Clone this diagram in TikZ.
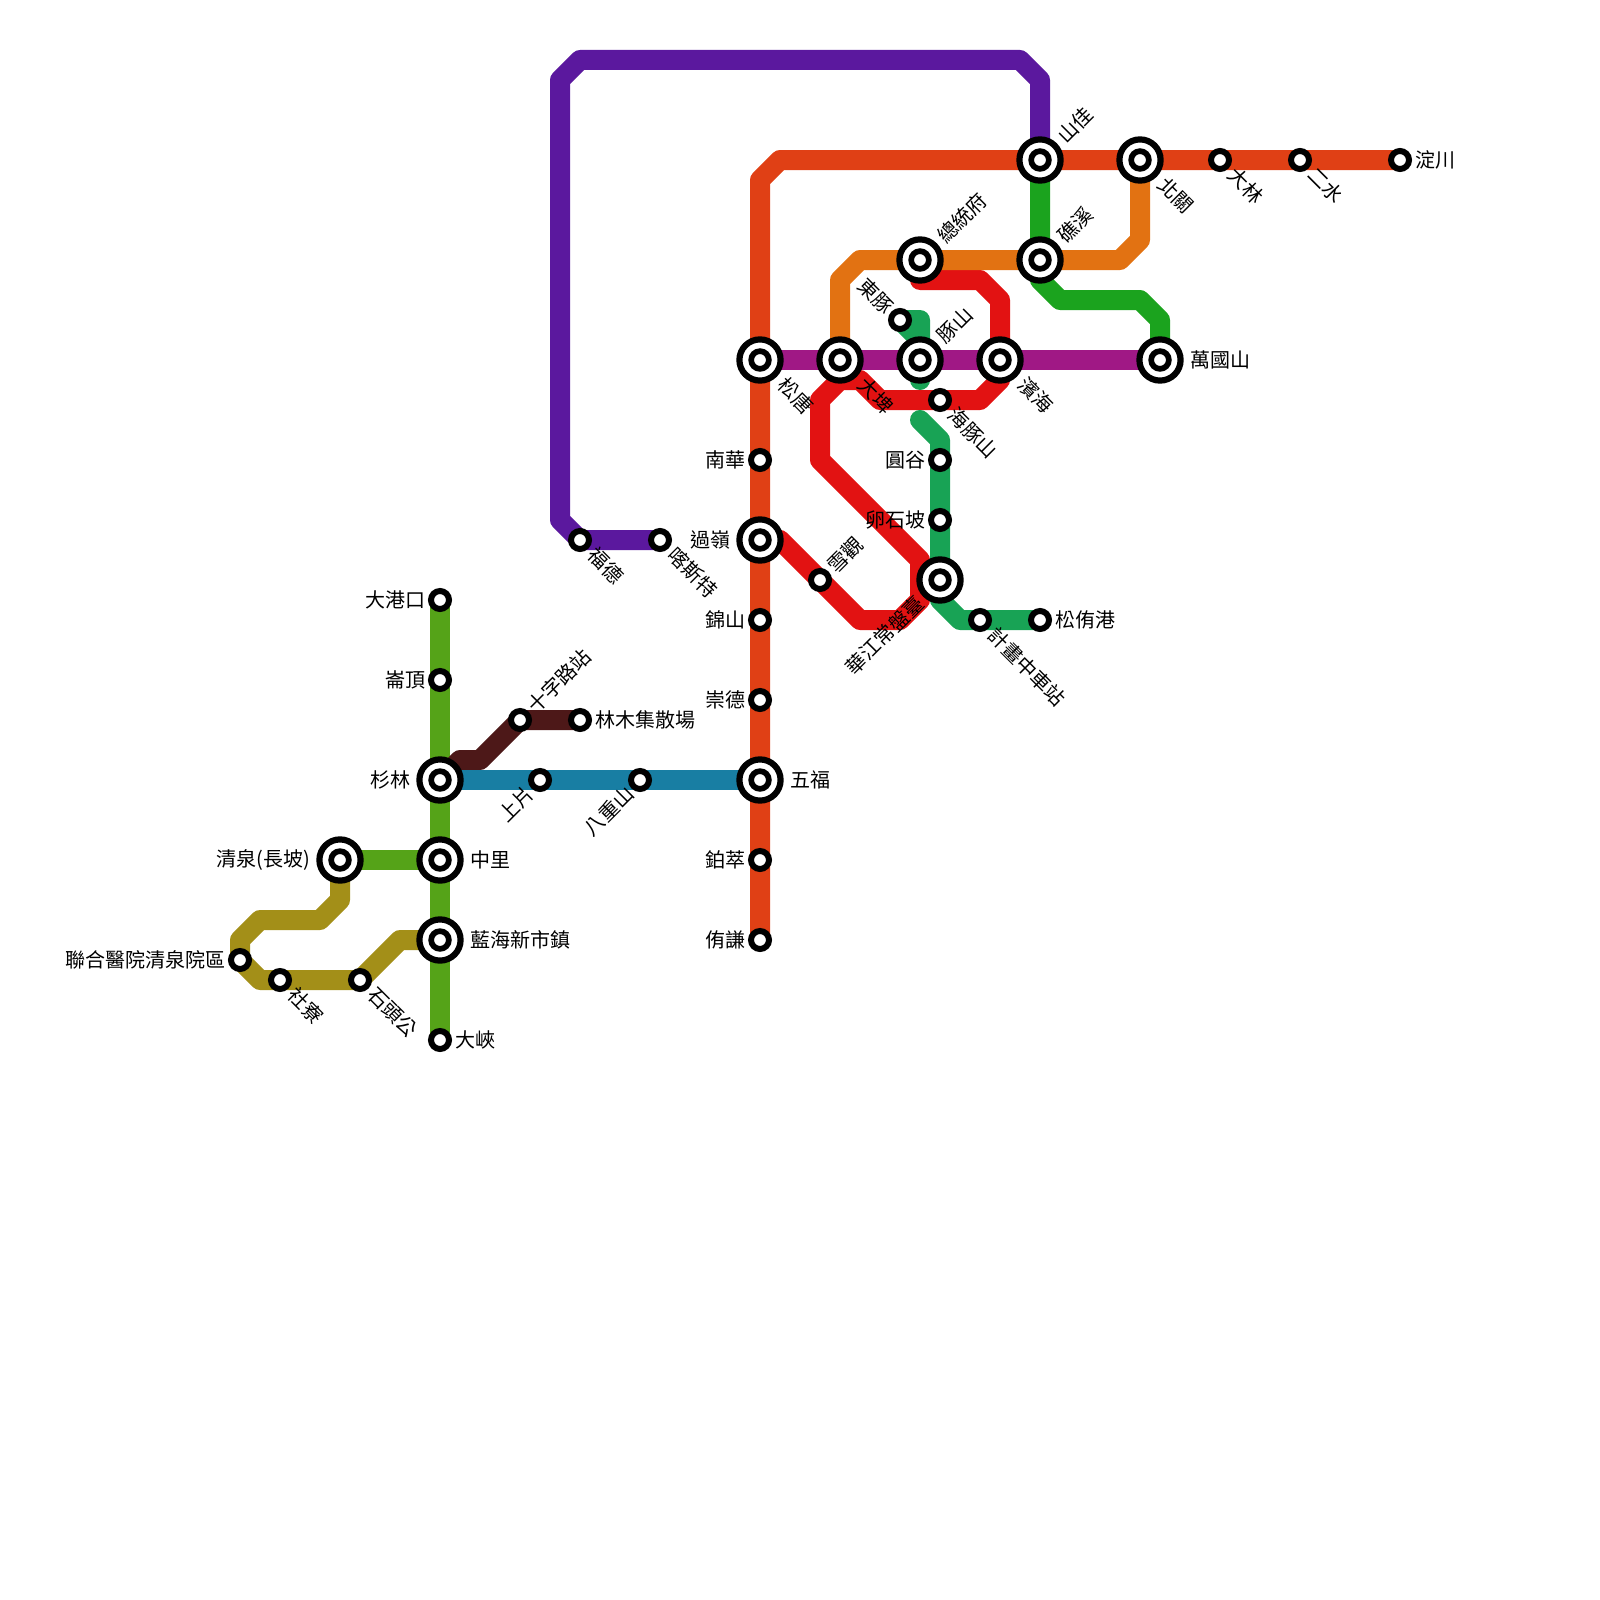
\documentclass[tikz,border=0pt]{standalone}
\usepackage{fontspec}
\setmainfont{Noto Sans CJK TC}
\tikzset{
 mline/.style={line width=20pt,line cap=round,line join=round},
 bigst/.style={circle,draw=black,line width=6.2pt,fill=white,minimum size=41.2pt,inner sep=0pt,outer sep=0pt},
 bigin/.style={circle,draw=black,line width=5.7pt,fill=white,minimum size=17.7pt,inner sep=0pt,outer sep=0pt},
 smst/.style={circle,draw=black,line width=6pt,fill=white,minimum size=18pt,inner sep=0pt,outer sep=0pt},
 lab/.style={font=\fontsize{20pt}{20pt}\selectfont,inner sep=0pt,outer sep=0pt,text=black},
 labE/.style={lab,anchor=west,xshift=#1},
 labW/.style={lab,anchor=east,xshift=-#1},
 labNE/.style={lab,anchor=west,xshift=#1+0.7pt,yshift=#1+0.7pt,rotate=45},
 labSE/.style={lab,anchor=west,xshift=#1+1.5pt,yshift=-#1-1.5pt,rotate=-45},
 labSW/.style={lab,anchor=east,xshift=-#1,yshift=-#1,rotate=45},
 labNW/.style={lab,anchor=east,xshift=-#1,yshift=#1,rotate=-45},
}
\definecolor{cpurple}{HTML}{5B189E}
\definecolor{cored}{HTML}{E04015}
\definecolor{corange}{HTML}{E27212}
\definecolor{cdgreen}{HTML}{1BA31E}
\definecolor{cmag}{HTML}{A01885}
\definecolor{cred}{HTML}{E21212}
\definecolor{cteal}{HTML}{18A355}
\definecolor{clime}{HTML}{55A318}
\definecolor{colive}{HTML}{A38F18}
\definecolor{cbrown}{HTML}{4D1818}
\definecolor{cblue}{HTML}{187EA3}
\begin{document}
\begin{tikzpicture}[x=1pt,y=-1pt]
\useasboundingbox (0,0) rectangle (1600,1600);
% positions
\foreach \n/\x/\y in {songtang/760/360,dapi/840/360,tunshan/920/360,binhai/1000/360,wanguo/1160/360,
 shanjia/1040/160,beiguan/1140/160,jiaoxi/1040/260,zongtong/920/260,guoling/760/540,huajiang/940/580,
 wufu/760/780,shanlin/440/780,zhongli/440/860,lanhai/440/940,qingquan/340/860,
 dongtun/900/320,haitun/940/400,nanhua/760/460,yuangu/940/460,luanshi/940/520,xueguan/820/580,
 jinshan/760/620,chongde/760/700,bocui/760/860,youqian/760/940,jihua/980/620,songyou/1040/620,
 dalin/1220/160,ershui/1300/160,dianchuan/1400/160,fude/580/540,kasite/660/540,
 dagang/440/600,lunding/440/680,daxia/440/1040,lianhe/240/960,sheliao/280/980,shitou/360/980,
 shizi/520/720,linmu/580/720,shangpian/540/780,bachong/640/780}
 {\coordinate (p\n) at (\x,\y);}
% lines
\draw[mline,cteal] (pdongtun) -- (920,340) -- (920,380) (pdongtun) -- (920,320) -- (920,340);
\draw[mline,cred] (920,260) -- (920,280) -- (980,280) -- (1000,300) -- (1000,380) -- (980,400) -- (880,400) -- (860,380) -- (840,380) -- (820,400) -- (820,460) -- (920,560) -- (920,600) -- (900,620) -- (860,620) -- (780,540) -- (pguoling);
\draw[mline,cteal] (920,420) -- (940,440) -- (940,600) -- (960,620) -- (psongyou);
\draw[mline,cpurple] (pshanjia) -- (1040,80) -- (1020,60) -- (580,60) -- (560,80) -- (560,520) -- (pfude) -- (pkasite);
\draw[mline,cored] (pyouqian) -- (760,180) -- (780,160) -- (pdianchuan);
\draw[mline,cdgreen] (pshanjia) -- (1040,280) -- (1060,300) -- (1140,300) -- (1160,320) -- (pwanguo);
\draw[mline,corange] (pdapi) -- (840,280) -- (860,260) -- (1120,260) -- (1140,240) -- (pbeiguan);
\draw[mline,cmag] (psongtang) -- (pwanguo);
\draw[mline,clime] (pdagang) -- (pdaxia);
\draw[mline,clime] (pqingquan) -- (pzhongli);
\draw[mline,colive] (pqingquan) -- (340,900) -- (320,920) -- (260,920) -- (240,940) -- (240,960) -- (260,980) -- (360,980) -- (400,940) -- (planhai);
\draw[mline,cbrown] (pshanlin) -- (460,760) -- (480,760) -- (pshizi) -- (plinmu);
\draw[mline,cblue] (pshanlin) -- (pwufu);
% big stations
\foreach \n in {songtang,dapi,tunshan,binhai,wanguo,shanjia,beiguan,jiaoxi,zongtong,guoling,huajiang,wufu,shanlin,zhongli,lanhai,qingquan}
 {\node[bigst] (o\n) at (p\n) {}; \node[bigin] (i\n) at (p\n) {};}
% small stations
\foreach \n in {dongtun,haitun,nanhua,yuangu,luanshi,xueguan,jinshan,chongde,bocui,youqian,jihua,songyou,dalin,ershui,dianchuan,fude,kasite,dagang,lunding,daxia,lianhe,sheliao,shitou,shizi,linmu,shangpian,bachong}
 {\node[smst] (s\n) at (p\n) {};}
% labels
\node[labSE=20pt] (l1) at (psongtang) {松唐};
\node[labSE=20pt] (l2) at (pdapi) {大埤};
\node[labNE=20pt] (l3) at (ptunshan) {豚山};
\node[labSE=20pt] (l4) at (pbinhai) {濱海};
\node[labE=30pt] (l5) at (pwanguo) {萬國山};
\node[labNE=20pt] (l6) at (pshanjia) {山佳};
\node[labSE=20pt] (l7) at (pbeiguan) {北關};
\node[labNE=20pt] (l8) at (pjiaoxi) {礁溪};
\node[labNE=20pt] (l9) at (pzongtong) {總統府};
\node[labW=30pt] (l10) at (pguoling) {過嶺};
\node[labSW=20pt] (l11) at (phuajiang) {華江常盤臺};
\node[labE=30pt] (l12) at (pwufu) {五福};
\node[labW=30pt] (l13) at (pshanlin) {杉林};
\node[labE=30pt] (l14) at (pzhongli) {中里};
\node[labE=30pt] (l15) at (planhai) {藍海新市鎮};
\node[labW=30pt] (l16) at (pqingquan) {清泉(長坡)};
\node[labNW=10pt] (l17) at (pdongtun) {東豚};
\node[labSE=10pt] (l18) at (phaitun) {海豚山};
\node[labW=15pt] (l19) at (pnanhua) {南華};
\node[labW=15pt] (l20) at (pyuangu) {圓谷};
\node[labW=15pt] (l21) at (pluanshi) {卵石坡};
\node[labNE=10pt] (l22) at (pxueguan) {雪觀};
\node[labW=15pt] (l23) at (pjinshan) {錦山};
\node[labW=15pt] (l24) at (pchongde) {崇德};
\node[labW=15pt] (l25) at (pbocui) {鉑萃};
\node[labW=15pt] (l26) at (pyouqian) {侑謙};
\node[labSE=10pt] (l27) at (pjihua) {計畫中車站};
\node[labE=15pt] (l28) at (psongyou) {松侑港};
\node[labSE=10pt] (l29) at (pdalin) {大林};
\node[labSE=10pt] (l30) at (pershui) {二水};
\node[labE=15pt] (l31) at (pdianchuan) {淀川};
\node[labSE=10pt] (l32) at (pfude) {福德};
\node[labSE=10pt] (l33) at (pkasite) {喀斯特};
\node[labW=15pt] (l34) at (pdagang) {大港口};
\node[labW=15pt] (l35) at (plunding) {崙頂};
\node[labE=15pt] (l36) at (pdaxia) {大峽};
\node[labW=15pt] (l37) at (plianhe) {聯合醫院清泉院區};
\node[labSE=10pt] (l38) at (psheliao) {社寮};
\node[labSE=10pt] (l39) at (pshitou) {石頭公};
\node[labNE=10pt] (l40) at (pshizi) {十字路站};
\node[labE=15pt] (l41) at (plinmu) {林木集散場};
\node[labSW=10pt] (l42) at (pshangpian) {上片};
\node[labSW=10pt] (l43) at (pbachong) {八重山};
\end{tikzpicture}
\end{document}
